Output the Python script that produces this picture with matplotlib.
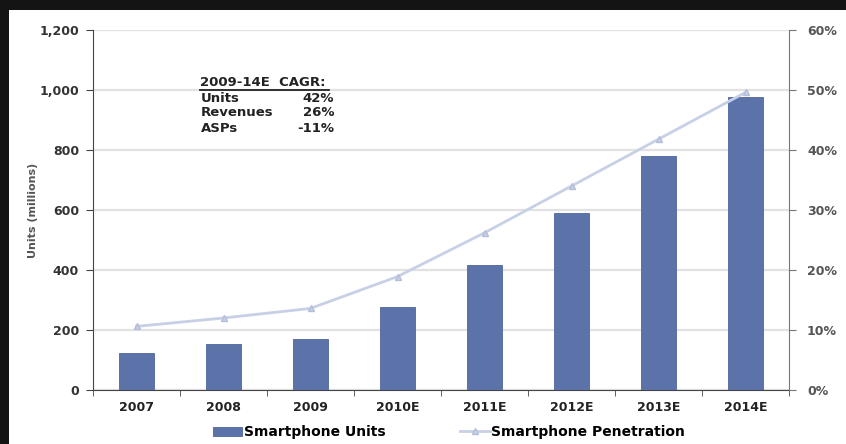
import matplotlib.pyplot as plt
import numpy as np
from matplotlib.patches import Rectangle
from matplotlib.lines import Line2D

# Chart data
years = ["2007", "2008", "2009", "2010E", "2011E", "2012E", "2013E", "2014E"]
units = [123, 154, 171, 278, 417, 589, 781, 978]            # millions
penetration = [10.6, 12.0, 13.6, 18.9, 26.2, 34.0, 41.8, 49.6]  # percent

cagr_labels = ["Units", "Revenues", "ASPs"]
cagr_values = ["42%", "26%", "-11%"]

# the source picture is stretched sideways, a wide face gets closer to it
plt.rcParams['font.family'] = ['DejaVu Sans']

fig = plt.figure(figsize=(8.46, 4.44), dpi=100, facecolor='#141414')
# white panel inside the dark frame
fig.patches.append(Rectangle((9 / 846, 0), 1, 1 - 10 / 444, transform=fig.transFigure,
                             facecolor='white', edgecolor='none', zorder=-5))

ax = fig.add_axes([93 / 846, 1 - 390 / 444, 696 / 846, 360 / 444])
ax.set_facecolor('none')
x = np.arange(len(years))

ax.bar(x, units, width=0.4, color='#5b73a9', edgecolor='#4e66a0', linewidth=0.6,
       zorder=3, label='Smartphone Units')
ax.set_xlim(-0.5, len(years) - 0.5)
ax.set_ylim(0, 1200)
ax.set_yticks(range(0, 1201, 200))
ax.set_yticklabels([f"{v:,}" for v in range(0, 1201, 200)], fontsize=9,
                   fontweight='bold', color='#333333')
ax.grid(axis='y', color='#e2e2e2', linewidth=1.6, zorder=0)
ax.set_ylabel("Units (millions)", fontsize=8, fontweight='bold', color='#555555')
ax.yaxis.set_label_coords(-0.079, 0.5)

ax.set_xticks(x)
ax.set_xticklabels(years, fontsize=9, fontweight='bold', color='#222222')
ax.set_xticks(np.arange(-0.5, len(years)), minor=True)
ax.tick_params(axis='x', which='major', length=0, pad=8)
ax.tick_params(axis='x', which='minor', length=4, direction='out', color='#444444')
ax.tick_params(axis='y', length=5, direction='out', color='#444444', pad=5)

for side in ['top', 'right']:
    ax.spines[side].set_visible(False)
ax.spines['left'].set_color('#444444')
ax.spines['bottom'].set_color('#444444')

ax2 = ax.twinx()
ax2.plot(x, penetration, color='#c8d0e6', linewidth=2, marker='^', markersize=4,
         markerfacecolor='#c8d0e6', markeredgecolor='#b4bed9', zorder=4,
         label='Smartphone Penetration')
ax2.set_ylim(0, 60)
ax2.set_yticks(range(0, 61, 10))
ax2.set_yticklabels([f"{v}%" for v in range(0, 61, 10)], fontsize=9,
                    fontweight='bold', color='#555555')
ax2.tick_params(axis='y', length=5, direction='out', color='#777777', pad=8)
for side in ['top', 'left', 'bottom']:
    ax2.spines[side].set_visible(False)
ax2.spines['right'].set_color('#777777')

# CAGR box
fig.text(200 / 846, 1 - 82 / 444, "2009-14E  CAGR:", fontsize=9.5, fontweight='bold',
         color='#222222', va='center')
fig.lines.append(Line2D([200 / 846, 329 / 846], [1 - 90.5 / 444, 1 - 90.5 / 444],
                        transform=fig.transFigure, color='#222222', linewidth=1.3))
for i, (lab, val) in enumerate(zip(cagr_labels, cagr_values)):
    yy = 1 - (98 + 15 * i) / 444
    fig.text(201 / 846, yy, lab, fontsize=9.5, fontweight='bold', color='#222222', va='center')
    fig.text(334 / 846, yy, val, fontsize=9.5, fontweight='bold', color='#222222',
             va='center', ha='right')

h1, l1 = ax.get_legend_handles_labels()
h2, l2 = ax2.get_legend_handles_labels()
fig.legend(h1 + h2, l1 + l2, loc='center', bbox_to_anchor=(449 / 846, 1 - 432 / 444),
           ncol=2, frameon=False, prop={'weight': 'bold', 'size': 10},
           handlelength=2.1, handleheight=0.6, columnspacing=5.4, handletextpad=0.1)

fig.savefig("out.png", dpi=100, facecolor=fig.get_facecolor())
